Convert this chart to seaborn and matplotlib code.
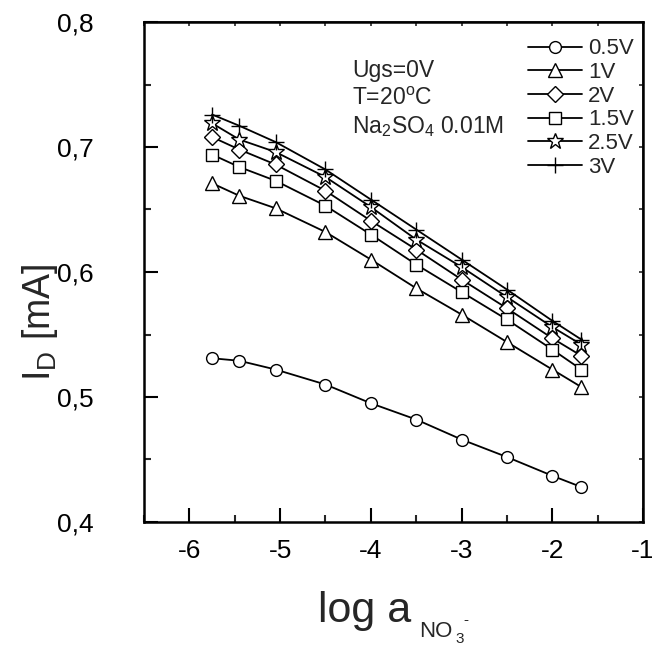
import matplotlib
matplotlib.use("Agg")
import matplotlib.pyplot as plt
import seaborn as sns
import numpy as np
import pandas as pd
from matplotlib.ticker import MultipleLocator, FuncFormatter

# ---- data ----
log_a = [-5.75, -5.45, -5.05, -4.5, -4.0, -3.5, -3.0, -2.5, -2.0, -1.68]
series_labels = ["0.5V", "1V", "2V", "1.5V", "2.5V", "3V"]
i_05 = [0.531, 0.529, 0.522, 0.510, 0.495, 0.482, 0.466, 0.452, 0.437, 0.428]
i_1 = [0.671, 0.661, 0.651, 0.632, 0.610, 0.587, 0.566, 0.544, 0.522, 0.508]
i_2 = [0.708, 0.698, 0.686, 0.665, 0.641, 0.618, 0.594, 0.571, 0.547, 0.533]
i_15 = [0.694, 0.684, 0.673, 0.653, 0.630, 0.606, 0.584, 0.562, 0.538, 0.522]
i_25 = [0.719, 0.706, 0.696, 0.676, 0.652, 0.626, 0.604, 0.580, 0.556, 0.542]
i_3 = [0.726, 0.717, 0.704, 0.682, 0.658, 0.634, 0.610, 0.586, 0.561, 0.546]
series_values = [i_05, i_1, i_2, i_15, i_25, i_3]
markers = ["o", "^", "D", "s", "*", "+"]
msizes = [8.5, 10, 8, 8, 12, 11]
x_ticks = [-6, -5, -4, -3, -2, -1]
y_ticks = [0.4, 0.5, 0.6, 0.7, 0.8]

frames = []
for lab, vals in zip(series_labels, series_values):
    frames.append(pd.DataFrame({"log_a": log_a, "I": vals, "U": lab}))
df = pd.concat(frames, ignore_index=True)

sns.set_theme(style="ticks")
plt.rcParams["font.family"] = ["Liberation Sans", "DejaVu Sans"]
plt.rcParams["mathtext.fontset"] = "custom"
plt.rcParams["mathtext.rm"] = "Liberation Sans"
plt.rcParams["mathtext.it"] = "Liberation Sans:italic"

fig = plt.figure(figsize=(6.52, 6.47), dpi=100)
ax = fig.add_axes([144 / 652, 1 - 522 / 647, (643 - 144) / 652, (522 - 22) / 647])

for lab, m, ms in zip(series_labels, markers, msizes):
    sub = df[df["U"] == lab]
    mfc = "white" if m != "+" else "black"
    sns.lineplot(data=sub, x="log_a", y="I", ax=ax, color="black", lw=1.3,
                 marker=m, markersize=ms, mfc=mfc, mec="black", mew=1.0,
                 label=lab, sort=False)

ax.set_xlim(-6.5, -1)
ax.set_ylim(0.4, 0.8)
ax.set_xticks(x_ticks)
ax.set_yticks(y_ticks)
ax.xaxis.set_minor_locator(MultipleLocator(0.5))
ax.yaxis.set_minor_locator(MultipleLocator(0.05))
ax.yaxis.set_major_formatter(FuncFormatter(lambda v, p: f"{v:.1f}".replace(".", ",")))
ax.xaxis.set_major_formatter(FuncFormatter(lambda v, p: f"{int(round(v))}"))
ax.tick_params(which="major", direction="in", length=10, width=1.5, labelsize=19,
               colors="black")
ax.tick_params(axis="x", which="major", pad=12)
ax.tick_params(axis="y", which="major", pad=36)
ax.tick_params(which="minor", direction="in", length=5, width=1.5)
for s in ax.spines.values():
    s.set_linewidth(1.8)
    s.set_color("black")
    s.set_visible(True)

# short ticks on top and right
secx = ax.secondary_xaxis("top")
secx.set_xticks(x_ticks)
secx.xaxis.set_minor_locator(MultipleLocator(0.5))
secx.tick_params(which="both", direction="in", length=3, width=1.2, labeltop=False)
secy = ax.secondary_yaxis("right")
secy.set_yticks(y_ticks)
secy.yaxis.set_minor_locator(MultipleLocator(0.05))
secy.tick_params(which="both", direction="in", length=3, width=1.2, labelright=False)

ax.set_xlabel("")
ax.set_ylabel("")

# axis labels
fig.text(40 / 652, 1 - 322 / 647, r"$\mathregular{I_D}$ [mA]", rotation=90,
         ha="center", va="center", fontsize=27)
fig.text(318 / 652, 1 - 622 / 647, "log a", ha="left", va="baseline", fontsize=31)
fig.text(419 / 652, 1 - 637 / 647, "NO", ha="left", va="baseline", fontsize=16)
fig.text(455 / 652, 1 - 643 / 647, "3", ha="left", va="baseline", fontsize=11)
fig.text(463 / 652, 1 - 624 / 647, "-", ha="left", va="baseline", fontsize=11)

# annotations
ax.text(352 / 652, 1 - 77 / 647, "Ugs=0V", transform=fig.transFigure, fontsize=16.5,
        va="baseline")
ax.text(352 / 652, 1 - 105 / 647, r"T=20$^\mathregular{o}$C", transform=fig.transFigure,
        fontsize=16.5, va="baseline")
ax.text(352 / 652, 1 - 133 / 647, r"Na$_\mathregular{2}$SO$_\mathregular{4}$ 0.01M",
        transform=fig.transFigure, fontsize=16.5, va="baseline")

leg = ax.legend(loc="upper right", bbox_to_anchor=(1.0, 0.985), frameon=False,
                fontsize=16, handlelength=2.4, handletextpad=0.3,
                labelspacing=0.12, borderaxespad=0.0)

fig.savefig("out.png", dpi=100)
